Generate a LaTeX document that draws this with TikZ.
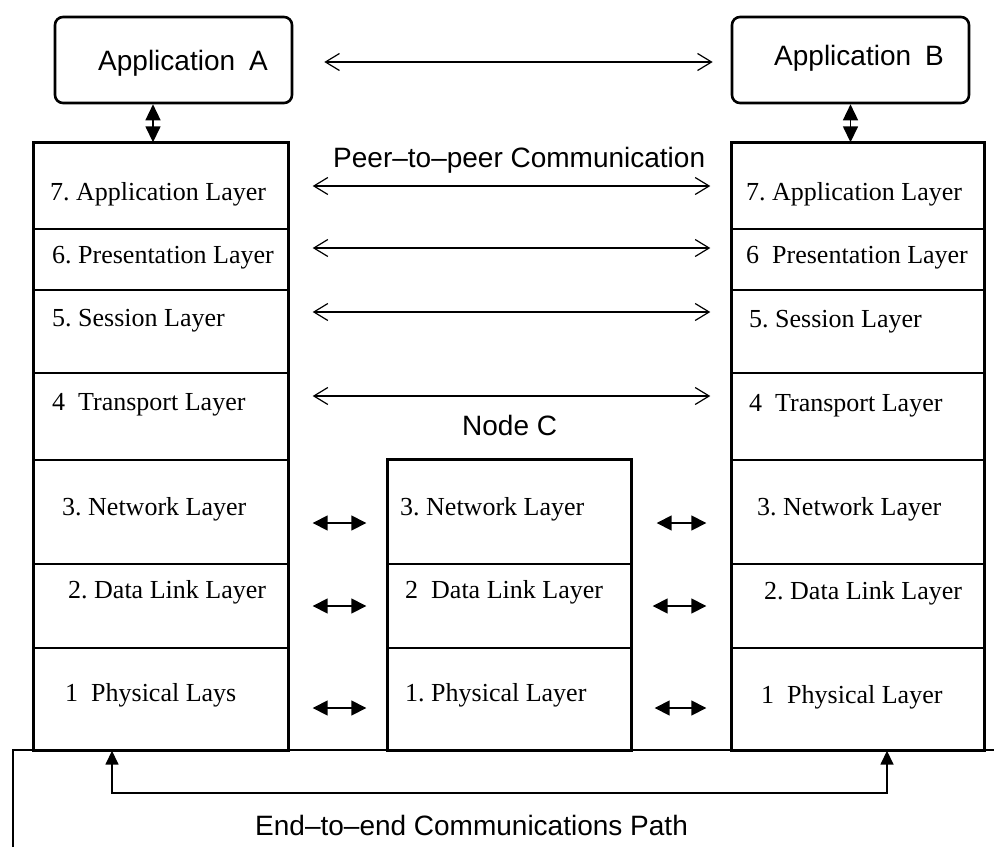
\documentclass[tikz,border=0pt]{standalone}
\usepackage{fontspec}
\setmainfont{Liberation Serif}
\newfontfamily\sansf{Liberation Sans}
\usetikzlibrary{arrows.meta}
\frenchspacing
\begin{document}
\begin{tikzpicture}[x=1pt,y=-1pt,
  layer/.style={draw,line width=1.4pt,inner sep=0pt},
  colA/.style={minimum width=254pt},
  colC/.style={minimum width=243pt},
  colB/.style={minimum width=252pt},
  outer/.style={draw,line width=2.6pt},
  appbox/.style={draw,line width=2.6pt,rounded corners=8pt,minimum width=237pt,minimum height=86pt,inner sep=0pt},
  lbl/.style={anchor=base west,inner sep=0pt,font=\fontsize{26}{30}\selectfont},
  slbl/.style={anchor=base west,inner sep=0pt,font=\sansf\fontsize{28}{32}\selectfont},
  peer/.style={line width=1.8pt,{Straight Barb[length=14pt,width=17pt,line width=1.2pt]}-{Straight Barb[length=14pt,width=17pt,line width=1.2pt]}},
  smallarr/.style={line width=1.6pt,{Triangle[length=15pt,width=15pt]}-{Triangle[length=15pt,width=15pt]}},
  apparr/.style={line width=1.5pt,{Triangle[length=16pt,width=15pt]}-{Triangle[length=16pt,width=15pt]}},
  e2e/.style={line width=1.6pt,{Triangle[length=14pt,width=13pt]}-{Triangle[length=14pt,width=13pt]}}
]
\useasboundingbox (0,0) rectangle (994,847);

% application boxes
\node[appbox] (appA) at (173.5,60) {};
\node[appbox] (appB) at (850.5,60) {};
\node[slbl] (tappA) at (98,70) {Application\enspace A};
\node[slbl] (tappB) at (774,65) {Application\enspace B};

% left stack
\node[layer,colA,minimum height=86pt] (A7) at (161,186) {};
\node[layer,colA,minimum height=61pt] (A6) at (161,259.5) {};
\node[layer,colA,minimum height=83pt] (A5) at (161,331.5) {};
\node[layer,colA,minimum height=87pt] (A4) at (161,416.5) {};
\node[layer,colA,minimum height=104pt] (A3) at (161,512) {};
\node[layer,colA,minimum height=84pt] (A2) at (161,606) {};
\node[layer,colA,minimum height=102pt] (A1) at (161,699) {};
\draw[outer] (A7.north west) rectangle (A1.south east);

% node C
\node[layer,colC,minimum height=104pt] (C3) at (509.5,512) {};
\node[layer,colC,minimum height=84pt] (C2) at (509.5,606) {};
\node[layer,colC,minimum height=102pt] (C1) at (509.5,699) {};
\draw[outer] (C3.north west) rectangle (C1.south east);

% right stack
\node[layer,colB,minimum height=86pt] (B7) at (858,186) {};
\node[layer,colB,minimum height=61pt] (B6) at (858,259.5) {};
\node[layer,colB,minimum height=83pt] (B5) at (858,331.5) {};
\node[layer,colB,minimum height=87pt] (B4) at (858,416.5) {};
\node[layer,colB,minimum height=104pt] (B3) at (858,512) {};
\node[layer,colB,minimum height=84pt] (B2) at (858,606) {};
\node[layer,colB,minimum height=102pt] (B1) at (858,699) {};
\draw[outer] (B7.north west) rectangle (B1.south east);

% layer texts
\node[lbl] (tA7) at (50,200) {7. Application Layer};
\node[lbl] (tA6) at (52,263) {6. Presentation Layer};
\node[lbl] (tA5) at (52,326) {5. Session Layer};
\node[lbl] (tA4) at (52,410) {4\enspace Transport Layer};
\node[lbl] (tA3) at (62,515) {3. Network Layer};
\node[lbl] (tA2) at (68,598) {2. Data Link Layer};
\node[lbl] (tA1) at (65,701) {1\enspace Physical Lays};

\node[lbl] (tC3) at (400,515) {3. Network Layer};
\node[lbl] (tC2) at (405,598) {2\enspace Data Link Layer};
\node[lbl] (tC1) at (405,701) {1. Physical Layer};

\node[lbl] (tB7) at (746,200) {7. Application Layer};
\node[lbl] (tB6) at (746,263) {6\enspace Presentation Layer};
\node[lbl] (tB5) at (749,327) {5. Session Layer};
\node[lbl] (tB4) at (749,411) {4\enspace Transport Layer};
\node[lbl] (tB3) at (757,515) {3. Network Layer};
\node[lbl] (tB2) at (764,599) {2. Data Link Layer};
\node[lbl] (tB1) at (761,703) {1\enspace Physical Layer};

% other labels
\node[slbl] (peerlbl) at (333,167) {Peer–to–peer Communication};
\node[slbl] (nodeC) at (462,435) {Node C};
\node[slbl] (e2elbl) at (255,835) {End–to–end Communications Path};

% application arrows
\draw[line width=1.5pt,shorten <=31pt,shorten >=18pt,{Straight Barb[length=14pt,width=17pt,line width=1.2pt]}-{Straight Barb[length=14pt,width=17pt,line width=1.2pt]}]
  ([yshift=-2pt]appA.east) -- ([yshift=-2pt]appB.west);
\coordinate (aA) at ([xshift=-20.5pt]appA.south);
\coordinate (aB) at (appB.south);
\draw[apparr] (aA) -- (aA |- A7.north);
\draw[apparr] (aB) -- (aB |- B7.north);

% peer-to-peer arrows
\draw[peer,shorten <=24pt,shorten >=21pt] (A7.east) -- (B7.west);
\draw[peer,shorten <=24pt,shorten >=21pt] ([yshift=11.5pt]A6.east) -- ([yshift=11.5pt]B6.west);
\draw[peer,shorten <=24pt,shorten >=21pt] ([yshift=19.5pt]A5.east) -- ([yshift=19.5pt]B5.west);
\draw[peer,shorten <=24pt,shorten >=21pt] ([yshift=20.5pt]A4.east) -- ([yshift=20.5pt]B4.west);

% small hop arrows
\draw[smallarr,shorten <=24pt,shorten >=21pt] ([yshift=-11pt]A3.east) -- ([yshift=-11pt]C3.west);
\draw[smallarr,shorten <=25pt,shorten >=25pt] ([yshift=-11pt]C3.east) -- ([yshift=-11pt]B3.west);
\draw[smallarr,shorten <=24pt,shorten >=21pt] (A2.east) -- (C2.west);
\draw[smallarr,shorten <=21pt,shorten >=25pt] (C2.east) -- (B2.west);
\draw[smallarr,shorten <=24pt,shorten >=21pt] ([yshift=-9pt]A1.east) -- ([yshift=-9pt]C1.west);
\draw[smallarr,shorten <=23pt,shorten >=25pt] ([yshift=-9pt]C1.east) -- ([yshift=-9pt]B1.west);

% bottom box and end-to-end path
\draw[line width=2.6pt] (13,847) -- (13,750) -- (994,750);
\draw[e2e] ([xshift=-49pt]A1.south) -- ++(0,42) -| ([xshift=29pt]B1.south);
\end{tikzpicture}
\end{document}
